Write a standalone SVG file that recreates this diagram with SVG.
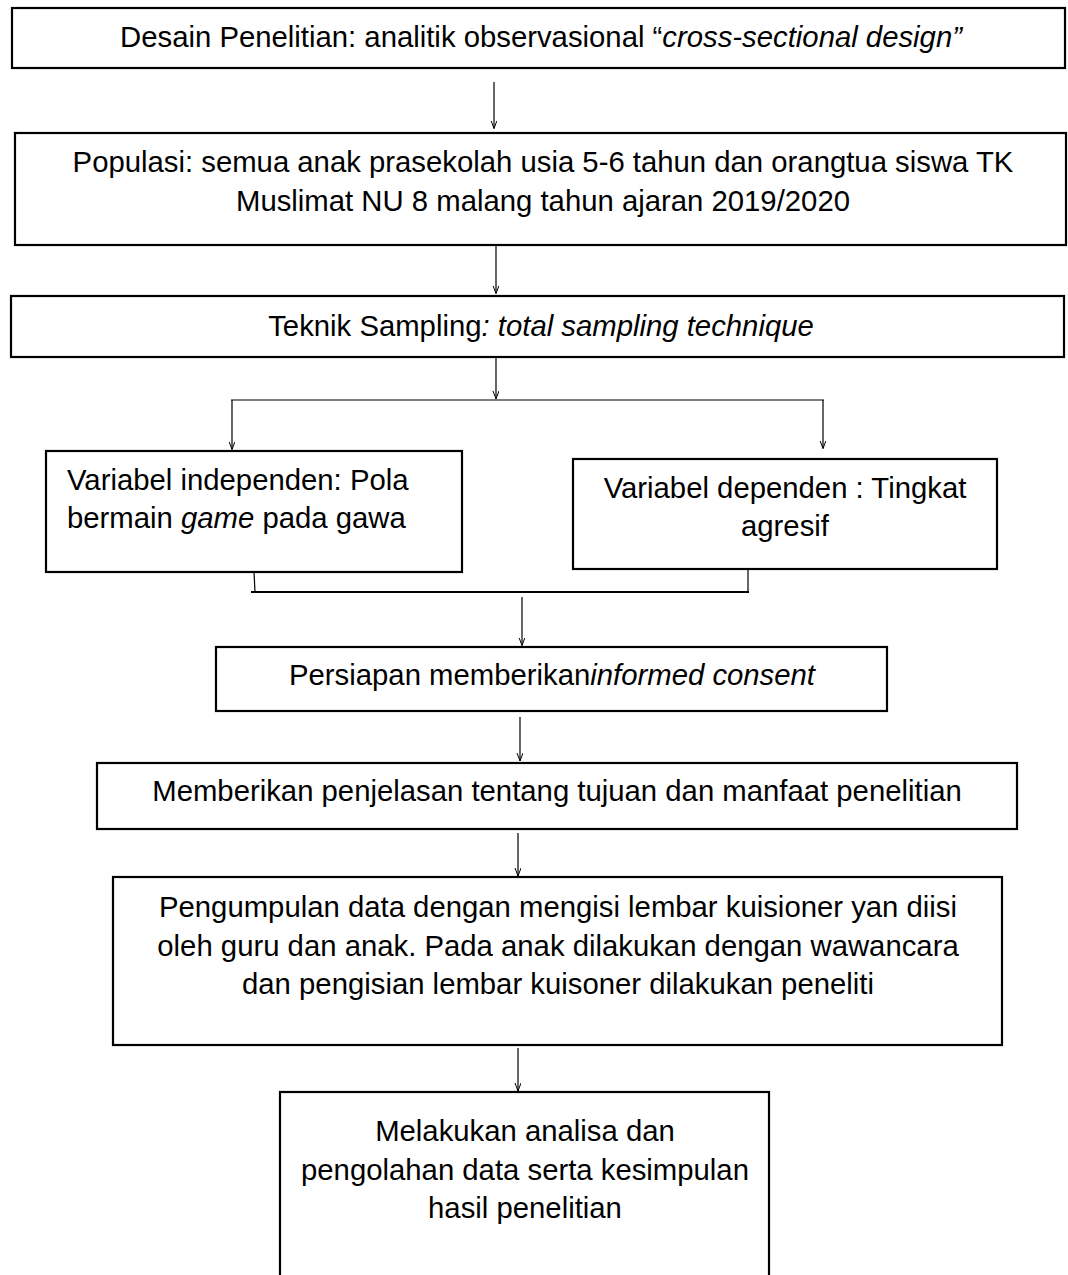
<svg xmlns="http://www.w3.org/2000/svg" width="1068" height="1275" viewBox="0 0 1068 1275">
<defs>
<marker id="arr" markerUnits="userSpaceOnUse" markerWidth="10" markerHeight="8" refX="8" refY="3" orient="auto" viewBox="0 0 10 8">
<path d="M0,0 L8,3 L0,6" fill="none" stroke="#000" stroke-width="1"/>
</marker>
<style>
.box{fill:#fff;stroke:#000;stroke-width:2.2}
.t{font-family:"Liberation Sans",Arial,sans-serif;font-size:29.3px;fill:#000}
.c{text-anchor:middle}
.i{font-style:italic}
.ln{fill:none;stroke:#000;stroke-width:1.2}
.ar{fill:none;stroke:#000;stroke-width:1.2;marker-end:url(#arr)}
</style>
</defs>
<rect width="1068" height="1275" fill="#fff"/>
<g id="connectors">
<path class="ar" d="M494,82 V128.5"/>
<path class="ar" d="M496,245 V293.5"/>
<path class="ar" d="M496,357 V399"/>
<path class="ln" d="M231,400 H824"/>
<path class="ar" d="M232,400 V449.5"/>
<path class="ar" d="M823,400 V448.5"/>
<path class="ln" d="M254,572 L255,592"/>
<path class="ln" d="M748,569 V592"/>
<path class="ln" style="stroke-width:2" d="M251,592 H749"/>
<path class="ar" d="M522,597 V645.5"/>
<path class="ar" d="M520,717 V761"/>
<path class="ar" d="M518,833 V876"/>
<path class="ar" d="M518,1048 V1091"/>
</g>
<g id="n1">
<rect class="box" x="12" y="8" width="1053" height="60"/>
<text class="t c" x="541" y="47">Desain Penelitian: analitik observasional “<tspan class="i">cross-sectional design”</tspan></text>
</g>
<g id="n2">
<rect class="box" x="15" y="133" width="1051" height="112"/>
<text class="t c" x="543" y="172">Populasi: semua anak prasekolah usia 5-6 tahun dan orangtua siswa TK</text>
<text class="t c" x="543" y="211">Muslimat NU 8 malang tahun ajaran 2019/2020</text>
</g>
<g id="n3">
<rect class="box" x="11" y="296" width="1053" height="61"/>
<text class="t c" x="541" y="336">Teknik Sampling<tspan class="i">: total sampling technique</tspan></text>
</g>
<g id="n4">
<rect class="box" x="46" y="451" width="416" height="121"/>
<text class="t" x="67" y="490">Variabel independen: Pola</text>
<text class="t" x="67" y="528">bermain <tspan class="i">game</tspan> pada gawa</text>
</g>
<g id="n5">
<rect class="box" x="573" y="459" width="424" height="110"/>
<text class="t c" x="785" y="498">Variabel dependen : Tingkat</text>
<text class="t c" x="785" y="536">agresif</text>
</g>
<g id="n6">
<rect class="box" x="216" y="647" width="671" height="64"/>
<text class="t c" x="552" y="685">Persiapan memberikan<tspan class="i">informed consent</tspan></text>
</g>
<g id="n7">
<rect class="box" x="97" y="763" width="920" height="66"/>
<text class="t c" x="557" y="801">Memberikan penjelasan tentang tujuan dan manfaat penelitian</text>
</g>
<g id="n8">
<rect class="box" x="113" y="877" width="889" height="168"/>
<text class="t c" x="558" y="917">Pengumpulan data dengan mengisi lembar kuisioner yan diisi</text>
<text class="t c" x="558" y="956">oleh guru dan anak. Pada anak dilakukan dengan wawancara</text>
<text class="t c" x="558" y="994">dan pengisian lembar kuisoner dilakukan peneliti</text>
</g>
<g id="n9">
<rect class="box" x="280" y="1092" width="489" height="220"/>
<text class="t c" x="525" y="1141">Melakukan analisa dan</text>
<text class="t c" x="525" y="1180">pengolahan data serta kesimpulan</text>
<text class="t c" x="525" y="1218">hasil penelitian</text>
</g>
</svg>
